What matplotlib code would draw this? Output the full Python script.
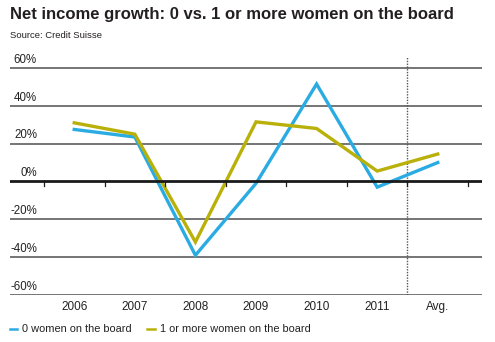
import matplotlib
matplotlib.use("Agg")
import matplotlib.pyplot as plt
from matplotlib.lines import Line2D

categories = ["2006", "2007", "2008", "2009", "2010", "2011", "Avg."]
zero_women = [27.5, 23.5, -39.0, -1.0, 51.5, -3.0, 10.0]
one_plus_women = [31.0, 25.0, -32.0, 31.5, 28.0, 5.5, 14.5]
y_ticks = [60, 40, 20, 0, -20, -40, -60]
y_labels = ["60%", "40%", "20%", "0%", "-20%", "-40%", "-60%"]
series_names = ["0 women on the board", "1 or more women on the board"]

BLUE = "#2aabe2"
OLIVE = "#b9b10a"
W, H = 495, 342

plt.rcParams["font.family"] = ["Liberation Sans", "DejaVu Sans"]
fig = plt.figure(figsize=(W / 100, H / 100), dpi=100)
ax = fig.add_axes([10 / W, 1 - 295 / H, 472 / W, (295 - 56.6) / H])

n = len(categories)
xs = list(range(n))
ax.set_xlim(-1.06, 6.73)
ax.set_ylim(-60, 66)

for v in y_ticks:
    if v == 0:
        continue
    ax.axhline(v, color="#5e5e5e", lw=1.2, zorder=1)
for v, lab in zip(y_ticks, y_labels):
    ax.text(-0.615, v + 1.2, lab, ha="right", va="bottom", fontsize=8.3, color="#222222")

ax.plot(xs, zero_women, color=BLUE, lw=2.4, zorder=3, solid_joinstyle="miter")
ax.plot(xs, one_plus_women, color=OLIVE, lw=2.4, zorder=3, solid_joinstyle="miter")

ax.axhline(0, color="#1a1a1a", lw=2.0, zorder=4)
for i in range(-1, n):
    ax.plot([i + 0.5, i + 0.5], [0, -2.3], color="#1a1a1a", lw=0.9, zorder=4)
ax.axvline(n - 1.5, color="#555555", lw=1.0, ls=(0, (1, 1)), zorder=2)

ax.set_xticks(xs)
ax.set_xticklabels(categories, fontsize=8.5, color="#222222")
ax.tick_params(axis="x", length=0, pad=4)
ax.set_yticks([])
for s in ax.spines.values():
    s.set_visible(False)

fig.text(10 / W, 1 - 18.5 / H, "Net income growth: 0 vs. 1 or more women on the board",
         fontsize=12.0, fontweight="bold", color="#231f20", ha="left", va="baseline")
fig.text(10 / W, 1 - 38 / H, "Source: Credit Suisse", fontsize=6.8, color="#231f20",
         ha="left", va="baseline")

ly = 1 - 329 / H
fig.add_artist(Line2D([10 / W, 17 / W], [ly, ly], color=BLUE, lw=1.8))
fig.text(22 / W, ly, series_names[0], fontsize=7.9, color="#222222", ha="left", va="center")
fig.add_artist(Line2D([147 / W, 155 / W], [ly, ly], color=OLIVE, lw=1.8))
fig.text(160 / W, ly, series_names[1], fontsize=7.9, color="#222222", ha="left", va="center")

fig.savefig("out.png", dpi=100)
